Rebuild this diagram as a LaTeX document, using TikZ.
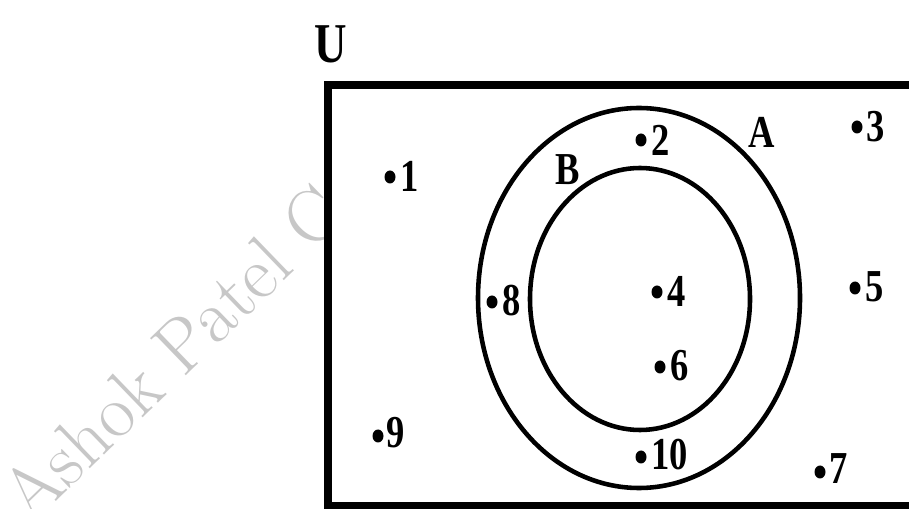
\documentclass[tikz,border=0pt]{standalone}
\usepackage{fontspec}
\newfontfamily\labelfont{Liberation Serif}[FakeStretch=0.8]
\begin{document}
\begin{tikzpicture}[x=0.02cm,y=-0.02cm,
  lbl/.style={font=\labelfont\bfseries\fontsize{26}{26}\selectfont,inner sep=0pt},
  num/.style={lbl,anchor=west},
  setline/.style={line width=2.6pt}]
\useasboundingbox (0,0) rectangle (909,509);
\clip (0,0) rectangle (909,509);
% watermark
\begin{scope}
\clip (0,0) rectangle (324,509);
\node[anchor=base west,rotate=44,text=black!22,inner sep=0pt,font=\fontsize{43}{43}\selectfont] (mark) at (31,526) {Ashok Patel C};
\end{scope}
% universal set
\draw[line width=5.1pt] (328,85) rectangle (940,506.5);
\node[lbl,font=\labelfont\bfseries\fontsize{32}{32}\selectfont] (U) at (331,44) {U};
% sets A and B
\draw[setline] (639,298) ellipse (161 and 190);
\draw[setline] (640,299) ellipse (110 and 131);
\node[lbl] (A) at (762,132) {A};
\node[lbl] (B) at (568,170) {B};
% elements
\fill (390,177) coordinate (p1) ellipse (5.5 and 6.5);
\fill (641,140) coordinate (p2) ellipse (5.5 and 6.5);
\fill (857,127) coordinate (p3) ellipse (5.5 and 6.5);
\fill (657,292) coordinate (p4) ellipse (5.5 and 6.5);
\fill (855,288) coordinate (p5) ellipse (5.5 and 6.5);
\fill (660,367) coordinate (p6) ellipse (5.5 and 6.5);
\fill (820,472) coordinate (p7) ellipse (5.5 and 6.5);
\fill (492,302) coordinate (p8) ellipse (5.5 and 6.5);
\fill (378,436) coordinate (p9) ellipse (5.5 and 6.5);
\fill (641,457) coordinate (p10) ellipse (5.5 and 6.5);
\node[num] (n1) at (400,176) {1};
\node[num] (n2) at (651,140) {2};
\node[num] (n3) at (866,127) {3};
\node[num] (n4) at (667,291) {4};
\node[num] (n5) at (865,287) {5};
\node[num] (n6) at (670,366) {6};
\node[num] (n7) at (829,469) {7};
\node[num] (n8) at (502,301) {8};
\node[num] (n9) at (386,433) {9};
\node[num] (n10) at (651,455) {10};
\end{tikzpicture}
\end{document}
